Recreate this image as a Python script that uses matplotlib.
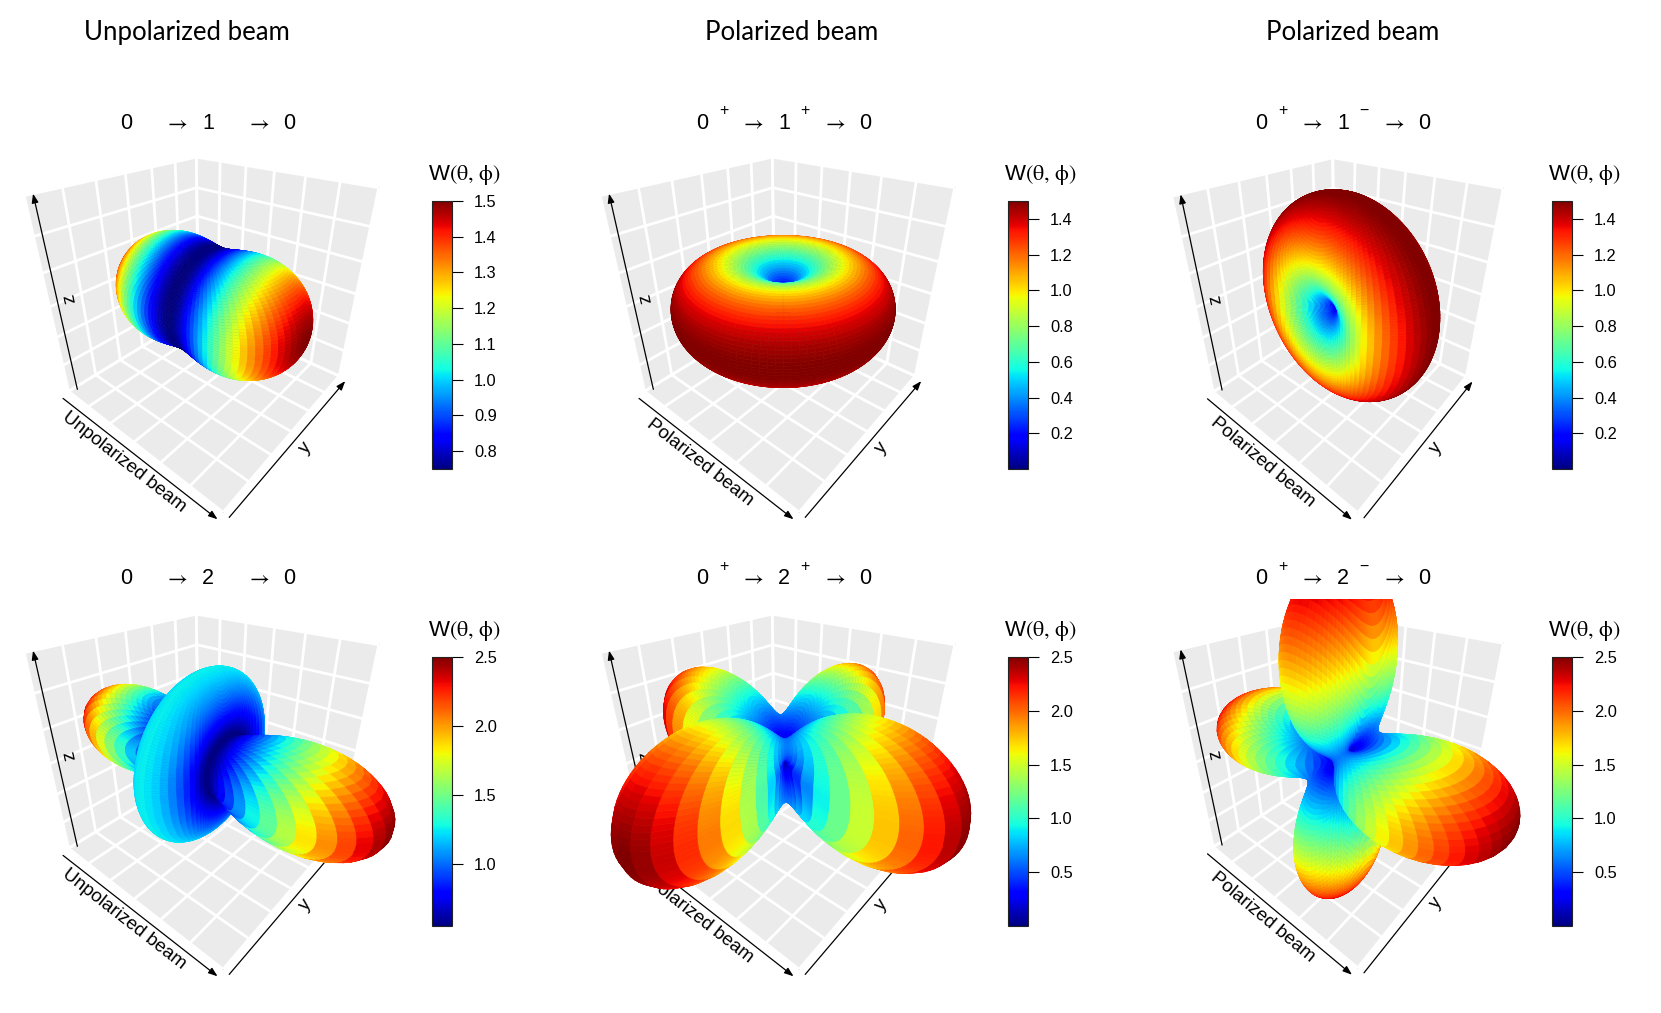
import numpy as np
import matplotlib
matplotlib.use('Agg')
import matplotlib.pyplot as plt
from matplotlib import colors, cm
from matplotlib.transforms import Bbox, TransformedBbox, IdentityTransform
from mpl_toolkits.mplot3d import proj3d

plt.rcParams['mathtext.fontset'] = 'custom'
plt.rcParams['mathtext.rm'] = 'Liberation Sans'

W_PX, H_PX = 1661, 1013

# ---- chart content ----
col_titles = ['Unpolarized beam', 'Polarized beam', 'Polarized beam']
beam_labels = ['Unpolarized beam', 'Polarized beam', 'Polarized beam',
               'Unpolarized beam', 'Polarized beam', 'Polarized beam']
# cascade 0 -> J -> 0 : parity of initial state, spin J, parity of J
parity_in = ['', '+', '+', '', '+', '+']
spin_mid = ['1', '1', '1', '2', '2', '2']
parity_mid = ['', '+', '\u2212', '', '+', '\u2212']

# angular distribution, beam along x, polarisation plane along y
# W = scale*(c0 + cx*nx^2 + cy*ny^2 + cz*nz^2 + cx4*nx^4 + cxy*nx^2 ny^2 + cxz*nx^2 nz^2)
w_scale = [0.75, 1.5, 1.5, 1.25, 2.5, 2.5]
w_c0 = [1, 1, 1, 1, 0, 0]
w_cx = [1, 0, 0, -3, 1, 1]
w_cy = [0, 0, -1, 0, 1, 0]
w_cz = [0, -1, 0, 0, 0, 1]
w_cx4 = [0, 0, 0, 4, 0, 0]
w_cxy = [0, 0, 0, 0, -4, 0]
w_cxz = [0, 0, 0, 0, 0, -4]

cbar_ticks = [[0.8, 0.9, 1.0, 1.1, 1.2, 1.3, 1.4, 1.5],
              [0.2, 0.4, 0.6, 0.8, 1.0, 1.2, 1.4],
              [0.2, 0.4, 0.6, 0.8, 1.0, 1.2, 1.4],
              [1.0, 1.5, 2.0, 2.5],
              [0.5, 1.0, 1.5, 2.0, 2.5],
              [0.5, 1.0, 1.5, 2.0, 2.5]]
box_lim = 1.5

# ---- layout (pixels, y from top) ----
ELEV, AZIM, FOCAL = 30.0, -49.8, 0.205
ax_cx = [202.2, 778.2, 1338.2]
ax_cy = [[305.3, 305.3, 305.9], [762.3, 762.3, 760.9]]
ax_w = [365.9, 365.9, 342.1]
ax_h = 365.9
clip_top = [143, 599]
cb_left = [432, 1008, 1552]
cb_w = 20
cb_top = [201, 657]
cb_bot = [469, 926]
title_x = [187, 792, 1353]
sub_x = [208, 784, 1343]
sub_base = [129, 584.5]
sub_dx = [-81.5, -60.5, -32.5, 0, 20.5, 49.5, 81.5]

n_grid = 110
th = np.linspace(0, np.pi, n_grid)
ph = np.linspace(0, 2 * np.pi, n_grid)
TH, PH = np.meshgrid(th, ph)
NX = np.sin(TH) * np.cos(PH)
NY = np.sin(TH) * np.sin(PH)
NZ = np.cos(TH)

cmap = plt.get_cmap('jet')

fig = plt.figure(figsize=(W_PX / 100, H_PX / 100), dpi=100)


def fpos(x0, y0, w, h):
    return [x0 / W_PX, 1 - (y0 + h) / H_PX, w / W_PX, h / H_PX]


for t, tx in zip(col_titles, title_x):
    fig.text(tx / W_PX, 1 - 40 / H_PX, t, ha='center', va='baseline',
             fontsize=18.5, family='Lato')

for k in range(6):
    r, c = divmod(k, 3)
    w, h = ax_w[c], ax_h
    cx, cy = ax_cx[c], ax_cy[r][c]
    ax = fig.add_axes(fpos(cx - w / 2, cy - h / 2, w, h), projection='3d')
    ax.apply_aspect = lambda position=None: None
    ax.set_proj_type('persp', focal_length=FOCAL)
    ax.view_init(elev=ELEV, azim=AZIM)
    ax.set_xlim(-box_lim, box_lim)
    ax.set_ylim(-box_lim, box_lim)
    ax.set_zlim(-box_lim, box_lim)
    ax.set_box_aspect((1, 1, 1))
    ax.patch.set_alpha(0)
    ticks = np.linspace(-box_lim, box_lim, 7)
    for axis in (ax.xaxis, ax.yaxis, ax.zaxis):
        axis.set_pane_color('#EBEBEB')
        axis.pane.set_edgecolor('#BEBEBE')
        axis.pane.set_linewidth(1.0)
        axis.line.set_color((0, 0, 0, 0))
        axis._axinfo['grid'].update(color='white', linewidth=2.0)
        axis._axinfo['tick']['inward_factor'] = 0
        axis._axinfo['tick']['outward_factor'] = 0
        axis.set_ticks(ticks)
        axis.set_ticklabels([])

    Wv = w_scale[k] * (w_c0[k] + w_cx[k] * NX ** 2 + w_cy[k] * NY ** 2 + w_cz[k] * NZ ** 2
                       + w_cx4[k] * NX ** 4 + w_cxy[k] * NX ** 2 * NY ** 2
                       + w_cxz[k] * NX ** 2 * NZ ** 2)
    norm = colors.Normalize(vmin=round(Wv.min(), 6), vmax=round(Wv.max(), 6))
    fc = cmap(norm(Wv))
    surf = ax.plot_surface(Wv * NX, Wv * NY, Wv * NZ, facecolors=fc, rstride=1, cstride=1,
                           shade=False, linewidth=0.4, antialiased=True)
    surf.set_edgecolor(fc[:-1, :-1].reshape(-1, 4))
    surf.set_clip_path(None)
    surf.set_clip_box(TransformedBbox(Bbox([[0, 0], [W_PX, H_PX - clip_top[r]]]),
                                      IdentityTransform()))

    # axis arrows and labels, drawn under the surface
    fig.canvas.draw()
    M = ax.get_proj()
    L = box_lim
    pts = np.array([[-L, -L, L], [-L, -L, -L], [L, -L, -L], [L, L, -L]])
    u, v, _ = proj3d.proj_transform(pts[:, 0], pts[:, 1], pts[:, 2], M)
    disp = ax.transData.transform(np.column_stack([u, v]))
    A_, D_, F_, E_ = disp

    def arrow(p0, p1, off, label, along):
        d = (p1 - p0) / np.linalg.norm(p1 - p0)
        perp = np.array([d[1], -d[0]])
        s0 = p0 + perp * off
        s1 = p1 + perp * off
        ax.annotate('', xy=tuple(s1), xytext=tuple(s0), xycoords='figure pixels',
                    textcoords='figure pixels', zorder=2,
                    arrowprops=dict(arrowstyle='-|>,head_length=0.6,head_width=0.22',
                                    mutation_scale=9, lw=0.9, color='black',
                                    shrinkA=0, shrinkB=0))
        mid = (s0 + s1) / 2 + perp * (13 if off > 0 else -13) + d * along
        ang = np.degrees(np.arctan2(d[1], d[0]))
        ax.text2D(mid[0], mid[1], label, transform=IdentityTransform(), rotation=ang,
                  rotation_mode='anchor', ha='center', va='center', fontsize=13.5,
                  family='Liberation Sans', zorder=2)

    arrow(D_, A_, 9, 'z', -10)
    arrow(D_, F_, 9, beam_labels[k], -11)
    arrow(F_, E_, 8, 'y', 13)

    # subtitle
    parts = ['0', parity_in[k], r'$\rightarrow$', spin_mid[k], parity_mid[k], r'$\rightarrow$', '0']
    sup = [False, True, False, False, True, False, False]
    for p, dx, is_sup in zip(parts, sub_dx, sup):
        if not p:
            continue
        yb = sub_base[r] - (14 if is_sup else 0)
        fig.text((sub_x[c] + dx) / W_PX, 1 - yb / H_PX, p, ha='center', va='baseline',
                 fontsize=11.5 if is_sup else 15.5,
                 family=['Liberation Sans', 'DejaVu Sans'], math_fontfamily='stix')

    # colour bar
    cax = fig.add_axes(fpos(cb_left[c], cb_top[r], cb_w, cb_bot[r] - cb_top[r]))
    cb = fig.colorbar(cm.ScalarMappable(norm=norm, cmap=cmap), cax=cax, ticks=cbar_ticks[k])
    cb.outline.set_linewidth(0.8)
    cb.outline.set_edgecolor('#222222')
    cax.tick_params(length=7.9, width=0.8, pad=8, labelsize=11.8)
    cax.set_yticks(cbar_ticks[k])
    cax.set_yticklabels(['%.1f' % t for t in cbar_ticks[k]], family='Liberation Sans')
    fig.text((cb_left[c] - 4) / W_PX, 1 - (cb_top[r] - 21) / H_PX,
             r'W$(\mathrm{\theta},\,\mathrm{\phi})$', ha='left', va='baseline',
             fontsize=16, family='Liberation Sans', math_fontfamily='stix')

fig.savefig('out.png', dpi=100)
